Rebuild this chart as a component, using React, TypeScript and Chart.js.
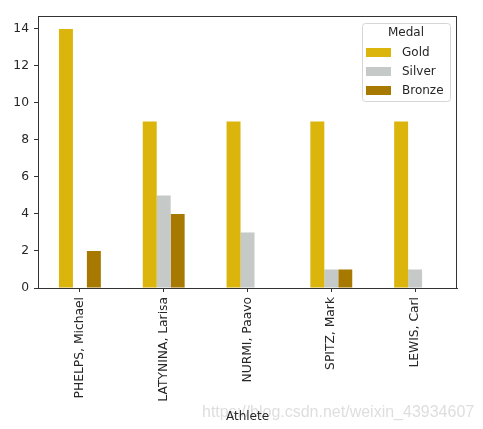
import React, { useEffect, useRef } from "react";
import { Chart, registerables } from "chart.js";

Chart.register(...registerables);

const athletes = ["PHELPS, Michael", "LATYNINA, Larisa", "NURMI, Paavo", "SPITZ, Mark", "LEWIS, Carl"];
const medalNames = ["Gold", "Silver", "Bronze"];
const goldCounts = [14, 9, 9, 9, 9];
const silverCounts = [0, 5, 3, 1, 1];
const bronzeCounts = [2, 4, 0, 1, 0];
const yTicks = [0, 2, 4, 6, 8, 10, 12, 14];
const medalColors = ["#dbb40c", "#c5c9c7", "#a87900"];
const watermark = "https://blog.csdn.net/weixin_43934607";

const FONT = "'DejaVu Sans', sans-serif";
const AXIS = "#333333";

const framePlugin = {
  id: "framePlugin",
  beforeDraw(chart: any) {
    const ctx = chart.ctx;
    ctx.save();
    ctx.fillStyle = "#ffffff";
    ctx.fillRect(0, 0, chart.width, chart.height);
    ctx.font = "16px 'Liberation Sans', Arial, sans-serif";
    ctx.fillStyle = "#dedede";
    ctx.textBaseline = "alphabetic";
    ctx.textAlign = "left";
    ctx.fillText(watermark, 202, 417);
    ctx.restore();
  },
  afterDraw(chart: any) {
    const ctx = chart.ctx;
    const a = chart.chartArea;
    ctx.save();
    ctx.strokeStyle = AXIS;
    ctx.lineWidth = 1;
    ctx.strokeRect(Math.round(a.left) + 0.5, Math.round(a.top) + 0.5, Math.round(a.right - a.left) - 1, Math.round(a.bottom - a.top));
    // legend
    const boxRight = a.right - 7;
    const boxTop = a.top + 7;
    ctx.font = "12px " + FONT;
    const labels = chart.data.datasets.map((d: any) => d.label);
    let maxW = ctx.measureText("Medal").width;
    labels.forEach((l: string) => { maxW = Math.max(maxW, ctx.measureText(l).width + 36); });
    const boxW = Math.max(88, maxW + 8);
    const boxH = 78;
    const boxLeft = boxRight - boxW;
    ctx.fillStyle = "rgba(255,255,255,0.8)";
    ctx.strokeStyle = "#d6d6d6";
    ctx.lineWidth = 1;
    ctx.beginPath();
    const r = 3;
    const x0 = Math.round(boxLeft) + 0.5, y0 = Math.round(boxTop) + 0.5, w = Math.round(boxW), h = boxH;
    ctx.moveTo(x0 + r, y0);
    ctx.lineTo(x0 + w - r, y0);
    ctx.arcTo(x0 + w, y0, x0 + w, y0 + r, r);
    ctx.lineTo(x0 + w, y0 + h - r);
    ctx.arcTo(x0 + w, y0 + h, x0 + w - r, y0 + h, r);
    ctx.lineTo(x0 + r, y0 + h);
    ctx.arcTo(x0, y0 + h, x0, y0 + h - r, r);
    ctx.lineTo(x0, y0 + r);
    ctx.arcTo(x0, y0, x0 + r, y0, r);
    ctx.closePath();
    ctx.fill();
    ctx.stroke();
    ctx.fillStyle = "#262626";
    ctx.textAlign = "center";
    ctx.textBaseline = "middle";
    ctx.fillText("Medal", boxLeft + boxW / 2, boxTop + 10);
    ctx.textAlign = "left";
    chart.data.datasets.forEach((d: any, i: number) => {
      const cy = boxTop + 29 + i * 19;
      ctx.fillStyle = d.backgroundColor;
      ctx.fillRect(boxLeft + 4, cy - 4, 25, 9);
      ctx.fillStyle = "#262626";
      ctx.fillText(d.label, boxLeft + 40, cy + 1);
    });
    ctx.restore();
  },
};

export default function App() {
  const ref = useRef<HTMLCanvasElement>(null);
  useEffect(() => {
    if (!ref.current) return;
    const seriesData = [goldCounts, silverCounts, bronzeCounts];
    const chart = new Chart(ref.current, {
      type: "bar",
      data: {
        labels: athletes,
        datasets: medalNames.map((name, i) => ({
          label: name,
          data: seriesData[i],
          backgroundColor: medalColors[i],
          borderWidth: 0,
          categoryPercentage: 0.5,
          barPercentage: 1.0,
        })),
      },
      options: {
        animation: false,
        responsive: false,
        devicePixelRatio: 1,
        layout: { padding: { left: 0, right: 26, top: 16, bottom: 0 } },
        plugins: { legend: { display: false }, tooltip: { enabled: false } },
        scales: {
          x: {
            offset: true,
            grid: { display: true, drawOnChartArea: false, drawTicks: true, tickLength: 4, color: AXIS, offset: false },
            border: { display: true, color: AXIS },
            ticks: { color: "#262626", font: { family: FONT, size: 12.3 }, minRotation: 90, maxRotation: 90, padding: 5, autoSkip: false },
            title: { display: true, text: "Athlete", color: "#262626", font: { family: FONT, size: 12 }, padding: { top: 0, bottom: 5 } },
            afterFit: (s: any) => { s.height = 141; },
          },
          y: {
            min: 0,
            max: 14.7,
            afterBuildTicks: (s: any) => { s.ticks = yTicks.map((v) => ({ value: v })); },
            grid: { display: true, drawOnChartArea: false, drawTicks: true, tickLength: 4, color: AXIS },
            border: { display: true, color: AXIS },
            ticks: { color: "#262626", font: { family: FONT, size: 12.3 }, padding: 5 },
            afterFit: (s: any) => { s.width = 38; },
          },
        },
      },
      plugins: [framePlugin],
    });
    return () => chart.destroy();
  }, []);
  return (
    <div style={{ position: "fixed", left: 0, top: 0, width: 483, height: 429, background: "#fff" }}>
      <canvas ref={ref} width={483} height={429} style={{ width: 483, height: 429, display: "block" }} />
    </div>
  );
}
